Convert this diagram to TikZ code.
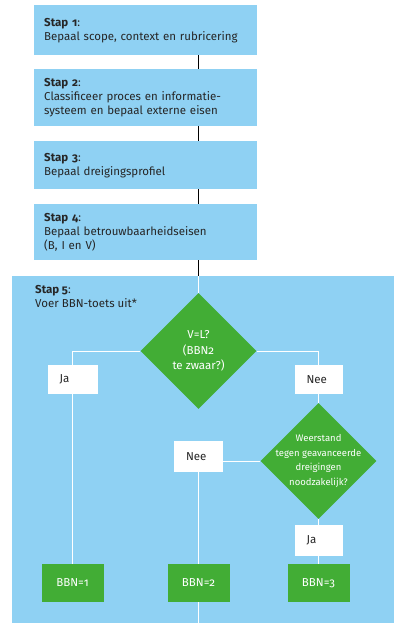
\documentclass[tikz,border=0pt]{standalone}
\usepackage{fontspec}
\setmainfont{Fira Sans}[Numbers=OldStyle]
\usetikzlibrary{shapes.geometric}
\definecolor{lblue}{HTML}{8FD1F3}
\definecolor{bgreen}{HTML}{42AD35}
\definecolor{txt}{HTML}{262626}
\begin{document}
\begin{tikzpicture}[x=1pt,y=-1pt,
  font=\fontsize{11.5}{14}\selectfont,
  stepbox/.style={fill=lblue, anchor=north west, minimum width=223pt, text width=203pt,
    align=left, inner xsep=10pt, inner ysep=0pt, text=txt},
  bigbox/.style={fill=lblue, anchor=north west, minimum width=382pt, minimum height=347pt, inner sep=0pt},
  dia/.style={diamond, fill=bgreen, minimum width=116pt, minimum height=116pt, inner sep=0pt},
  dtext/.style={align=center, text=white, inner sep=0pt},
  wbox/.style={fill=white, minimum height=29pt, text width=26pt, inner xsep=12pt, inner ysep=0pt, align=left, text=txt},
  gbox/.style={fill=bgreen, minimum width=62pt, minimum height=38pt, inner sep=0pt, text=white},
  blk/.style={draw=black, line width=0.8pt},
  wht/.style={draw=white, line width=1pt}
]
\useasboundingbox (0,0) rectangle (394,623);

% top steps
\node[stepbox, minimum height=50pt] (s1) at (34,5) {\textbf{Stap 1}:\\Bepaal scope, context en rubricering};
\node[stepbox, minimum height=57pt] (s2) at (34,69) {\textbf{Stap 2}:\\Classificeer proces en informatie-\\systeem en bepaal externe eisen};
\node[stepbox, minimum height=48pt] (s3) at (34,141) {\textbf{Stap 3}:\\Bepaal dreigingsprofiel};
\node[stepbox, minimum height=56pt] (s4) at (34,204) {\textbf{Stap 4}:\\Bepaal betrouwbaarheidseisen\\(B, I en V)};

% step 5 panel
\node[bigbox] (s5) at (12,276) {};
\node[anchor=north west, align=left, inner sep=0pt, text=txt] (s5t) at (35,285) {\textbf{Stap 5}:\\Voer BBN-toets uit*};

\coordinate (spine) at (198.5,0);
\coordinate (bot) at (198.5,623);

% decisions
\node[dia] (d1) at (198.5,351) {};
\node[dtext, font=\fontsize{11.5}{15.5}\selectfont] (d1t) at (198.5,351) {V=L?\\(BBN2\\te zwaar?)};
\node[dia] (d2) at (318.5,461) {};
\node[dtext, font=\fontsize{9.5}{14.8}\selectfont] (d2t) at (318.5,461) {Weerstand\\tegen geavanceerde\\dreigingen\\noodzakelijk?};

% answer boxes
\node[wbox] (ja1) at (72.5,379.5) {Ja};
\node[wbox, text width=24pt] (nee1) at (318.5,379.5) {Nee};
\node[wbox, minimum height=31pt, text width=25pt] (nee2) at (198.5,456.5) {Nee};
\node[wbox, minimum height=31pt, text width=24pt] (ja2) at (318.5,540.5) {Ja};

% outcomes
\node[gbox] (b1) at (72.5,583) {BBN=1};
\node[gbox] (b2) at (198.5,583) {BBN=2};
\node[gbox] (b3) at (318.5,583) {BBN=3};

% connectors between steps
\draw[blk] (s1.south -| spine) -- (s2.north -| spine);
\draw[blk] (s2.south -| spine) -- (s3.north -| spine);
\draw[blk] (s3.south -| spine) -- (s4.north -| spine);
\draw[blk] (s4.south -| spine) -- (s5.north -| spine);

% connectors inside step 5
\draw[wht] (s5.north -| spine) -- (d1.north);
\draw[wht] (d1.west) -| (ja1.north);
\draw[wht] (ja1.south) -- (b1.north);
\draw[wht] (d1.east) -| (nee1.north);
\draw[wht] (nee1.south) -- (d2.north);
\draw[wht] (d2.west) -- (d2.west -| nee2.east);
\draw[wht] (nee2.south) -- (b2.north);
\draw[wht] (d2.south) -- (ja2.north);
\draw[wht] (ja2.south) -- (b3.north);
\draw[wht] (b2.south) -- (bot);
\end{tikzpicture}
\end{document}
